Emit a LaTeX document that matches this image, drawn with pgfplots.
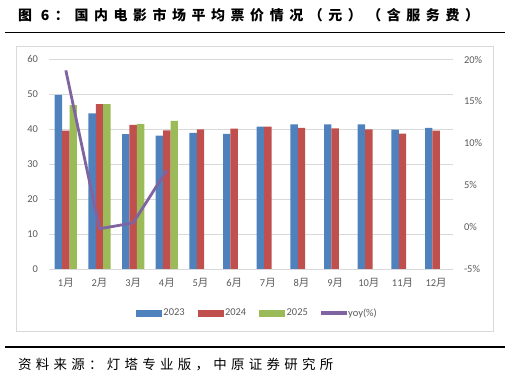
\documentclass[border=0pt]{standalone}
\usepackage{fontspec}
\setmainfont{Carlito}
\newfontfamily\cjk{Noto Sans CJK SC}
\newfontfamily\cjktitle{Noto Sans CJK SC}[LetterSpace=40]
\newfontfamily\cjksrc{Noto Sans CJK SC}[LetterSpace=32]
\usepackage{pgfplots}
\pgfplotsset{compat=1.18}
\definecolor{cb}{HTML}{4F81BD}
\definecolor{cr}{HTML}{C0504D}
\definecolor{cg}{HTML}{9BBB59}
\definecolor{cp}{HTML}{8064A2}
\definecolor{gridc}{HTML}{D9D9D9}
\definecolor{labc}{HTML}{595959}
\pgfplotstableread{
m y23 y24
1 49.9 39.6
2 44.6 47.2
3 38.6 41.3
4 38.2 39.7
5 39.0 40.0
6 38.7 40.2
7 40.8 40.8
8 41.4 40.4
9 41.4 40.3
10 41.4 40.0
11 39.9 38.8
12 40.4 39.6
}\tabA
\pgfplotstableread{
m y25
1 46.9
2 47.2
3 41.5
4 42.4
}\tabB
\pgfplotstableread{
m yoy
1 18.7
2 -0.2
3 0.5
4 6.8
}\tabC
\begin{document}
\begin{tikzpicture}
\useasboundingbox (0bp,0bp) rectangle (510bp,379bp);
\draw[gridc, line width=0.75bp] (16bp,48bp) rectangle (493bp,333bp);
\draw[line width=1.7bp] (5bp,346.5bp) -- (505bp,346.5bp);
\draw[line width=2bp] (5bp,31.7bp) -- (505bp,31.7bp);
\node[anchor=west, inner sep=0pt] at (18bp,364bp) {\cjktitle\bfseries\fontsize{14}{16}\selectfont 图 6：国内电影市场平均票价情况（元）（含服务费）};
\node[anchor=west, inner sep=0pt] at (18bp,14bp) {\cjksrc\fontsize{13.5}{15}\selectfont 资料来源：灯塔专业版，中原证券研究所};
\begin{axis}[
  at={(49bp,110bp)}, anchor=south west, scale only axis,
  width=404bp, height=209.5bp,
  xmin=0.5, xmax=12.5, ymin=0, ymax=60,
  ytick={0,10,...,60},
  xtick={1,...,12},
  xticklabels={1{\cjk 月},2{\cjk 月},3{\cjk 月},4{\cjk 月},5{\cjk 月},6{\cjk 月},7{\cjk 月},8{\cjk 月},9{\cjk 月},10{\cjk 月},11{\cjk 月},12{\cjk 月}},
  ymajorgrids, grid style={gridc, line width=0.75bp},
  axis line style={draw=none},
  major tick length=0pt,
  /pgf/number format/assume math mode=true,
  tick label style={font=\fontsize{10.5}{12}\selectfont, text=labc},
  yticklabel style={xshift=-7.5bp},
  xticklabel style={yshift=-6bp},
  legend style={at={(0.516,-0.21)}, anchor=center, draw=none, fill=none,
    legend columns=4, font=\fontsize{10.5}{12}\selectfont, text=labc,
    /tikz/every even column/.append style={column sep=11bp}},
  legend cell align=left,
]
\addplot[ybar, bar width=0.22, bar shift=-0.22, fill=cb, draw=none, forget plot] table[x=m,y=y23] {\tabA};
\addplot[ybar, bar width=0.22, bar shift=0, fill=cr, draw=none, forget plot] table[x=m,y=y24] {\tabA};
\addplot[ybar, bar width=0.22, bar shift=0.22, fill=cg, draw=none, forget plot] table[x=m,y=y25] {\tabB};
\addlegendimage{legend image code/.code={\fill[cb] (0bp,-3bp) rectangle (25bp,3bp);}}
\addlegendentry{2023}
\addlegendimage{legend image code/.code={\fill[cr] (0bp,-3bp) rectangle (25bp,3bp);}}
\addlegendentry{2024}
\addlegendimage{legend image code/.code={\fill[cg] (0bp,-3bp) rectangle (25bp,3bp);}}
\addlegendentry{2025}
\addlegendimage{legend image code/.code={\fill[cp] (0bp,-1.4bp) rectangle (25bp,1.4bp);}}
\addlegendentry{yoy(\%)}
\end{axis}
\begin{axis}[
  at={(49bp,110bp)}, anchor=south west, scale only axis,
  width=404bp, height=209.5bp,
  xmin=0.5, xmax=12.5, ymin=-5, ymax=20,
  hide x axis, axis y line*=right, axis line style={draw=none},
  ytick={-5,0,5,10,15,20},
  yticklabels={-5\%,0\%,5\%,10\%,15\%,20\%},
  major tick length=0pt,
  tick label style={font=\fontsize{10.5}{12}\selectfont, text=labc},
  yticklabel style={xshift=7.5bp},
]
\addplot[color=cp, line width=2.8bp, line join=round] table[x=m,y=yoy] {\tabC};
\end{axis}
\end{tikzpicture}
\end{document}
